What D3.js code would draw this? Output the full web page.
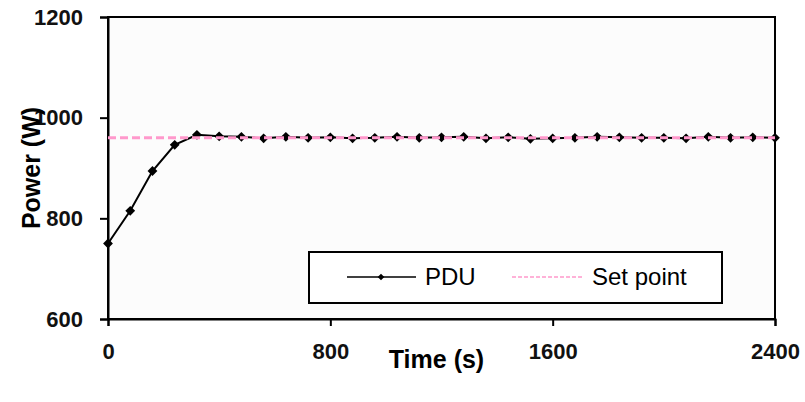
<!DOCTYPE html>
<html>
<head>
<meta charset="utf-8">
<script src="https://cdn.jsdelivr.net/npm/d3@7"></script>
<style>
  body { margin: 0; background: #fff; }
  svg { display: block; font-family: Arial, "Liberation Sans", sans-serif; }
</style>
</head>
<body>
<div id="chart"></div>
<script>
// time in seconds, sampled every 80 s
const times = d3.range(0, 2401, 80)
const pduPower = [750, 815, 894, 946, 966, 963, 962, 959, 962, 960,
    961, 959, 960, 962, 960, 961, 962, 959, 961, 958,
    959, 960, 962, 961, 960, 960, 959, 962, 960, 961, 960]
const setPoint = 960
const xTicks = [0, 800, 1600, 2400]
const yTicks = [600, 800, 1000, 1200]

const width = 805, height = 402
const margin = { top: 17, right: 30, bottom: 83, left: 108 }

const svg = d3.select("#chart").append("svg")
    .attr("width", width)
    .attr("height", height)

const x = d3.scaleLinear().domain([0, 2400]).range([margin.left, width - margin.right])
const y = d3.scaleLinear().domain([600, 1200]).range([height - margin.bottom, margin.top])

// plot area frame
svg.append("rect")
    .attr("x", x(0)).attr("y", y(1200))
    .attr("width", x(2400) - x(0)).attr("height", y(600) - y(1200))
    .attr("fill", "#fcfcfc")
    .attr("stroke", "#000").attr("stroke-width", 2)

const xAxis = svg.append("g")
    .attr("transform", `translate(0,${y(600)})`)
    .call(d3.axisBottom(x).tickValues(xTicks).tickSize(7).tickPadding(17).tickFormat(d3.format("d")))
const yAxis = svg.append("g")
    .attr("transform", `translate(${x(0)},0)`)
    .call(d3.axisLeft(y).tickValues(yTicks).tickSize(8).tickPadding(17).tickFormat(d3.format("d")))

for (const ax of [xAxis, yAxis]) {
    ax.select(".domain").attr("stroke-width", 2)
    ax.selectAll(".tick line").attr("stroke-width", 2)
    ax.selectAll("text").attr("font-size", 22).attr("font-weight", "bold").attr("fill", "#111")
        .attr("font-family", "Arial, 'Liberation Sans', sans-serif")
}

// PDU line
const line = d3.line().x((d, i) => x(times[i])).y(d => y(d))
svg.append("path")
    .datum(pduPower)
    .attr("fill", "none").attr("stroke", "#000").attr("stroke-width", 2)
    .attr("d", line)

// excel style diamond = square turned 45 deg
svg.selectAll(".pt")
    .data(pduPower)
    .enter().append("path")
    .attr("class", "pt")
    .attr("transform", (d, i) => `translate(${x(times[i])},${y(d)}) rotate(45)`)
    .attr("d", d3.symbol(d3.symbolSquare, 48))
    .attr("fill", "#000")

// set point, drawn over the PDU series
svg.append("line")
    .attr("x1", x(0)).attr("x2", x(2400))
    .attr("y1", y(setPoint)).attr("y2", y(setPoint))
    .attr("stroke", "#ff99cc").attr("stroke-width", 3)
    .attr("stroke-dasharray", "8,4")

// axis titles
svg.append("text")
    .attr("x", (x(0) + x(2400)) / 2 - 5).attr("y", 368)
    .attr("text-anchor", "middle")
    .attr("font-size", 25).attr("font-weight", "bold")
    .text("Time (s)")

svg.append("text")
    .attr("transform", `translate(40,${(y(600) + y(1200)) / 2}) rotate(-90)`)
    .attr("text-anchor", "middle")
    .attr("font-size", 25).attr("font-weight", "bold")
    .text("Power (W)")

// legend
svg.append("rect")
    .attr("x", 309).attr("y", 252).attr("width", 413).attr("height", 51)
    .attr("fill", "#fff").attr("stroke", "#000").attr("stroke-width", 2)
const legend = svg.append("g")
legend.append("line")
    .attr("x1", 347).attr("x2", 416).attr("y1", 277).attr("y2", 277)
    .attr("stroke", "#000").attr("stroke-width", 1.5)
legend.append("path")
    .attr("transform", "translate(381,277) rotate(45)")
    .attr("d", d3.symbol(d3.symbolSquare, 22))
legend.append("text")
    .attr("x", 425).attr("y", 285)
    .attr("font-size", 24)
    .text("PDU")
legend.append("line")
    .attr("x1", 512).attr("x2", 583).attr("y1", 277).attr("y2", 277)
    .attr("stroke", "#ff99cc").attr("stroke-width", 1.5)
    .attr("stroke-dasharray", "4,2")
legend.append("text")
    .attr("x", 592).attr("y", 285)
    .attr("font-size", 24)
    .text("Set point")
</script>
</body>
</html>
